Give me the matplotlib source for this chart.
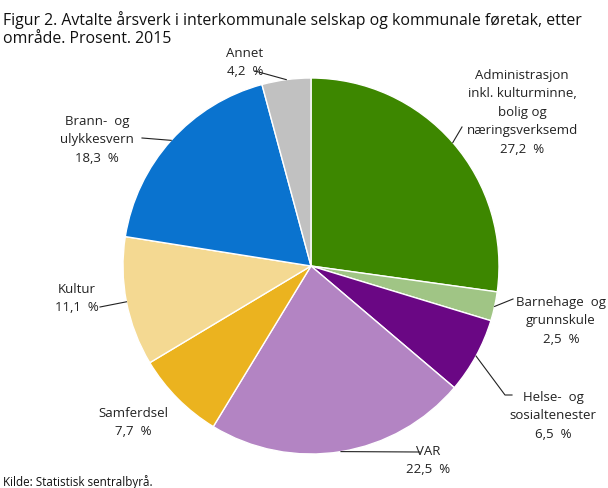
import numpy as np
import matplotlib
matplotlib.use("Agg")
import matplotlib.pyplot as plt

categories = ["Administrasjon\ninkl. kulturminne,\nbolig og\nnæringsverksemd",
              "Barnehage  og\ngrunnskule", "Helse-  og\nsosialtenester", "VAR",
              "Samferdsel", "Kultur", "Brann-  og\nulykkesvern", "Annet"]
values = [27.2, 2.5, 6.5, 22.5, 7.7, 11.1, 18.3, 4.2]
colors = ["#3D8700", "#A0C585", "#6A0784", "#B384C3", "#EBB31F", "#F4D992", "#0A73CF", "#C1C1C1"]

W, H = 608, 489
plt.rcParams['font.family'] = ['Open Sans', 'DejaVu Sans']
fig = plt.figure(figsize=(W / 100, H / 100), dpi=100)
ax = fig.add_axes([0, 0, 1, 1])
ax.set_xlim(0, W)
ax.set_ylim(0, H)
ax.set_aspect('equal')
ax.axis('off')

cx, cy, r = 311, H - 267, 188
wedges, _ = ax.pie(values, colors=colors, startangle=90, counterclock=False,
                   center=(cx, cy), radius=r,
                   wedgeprops=dict(edgecolor='white', linewidth=1.0))
ax.set_xlim(0, W)
ax.set_ylim(0, H)

def P(y):
    return H - y

# label layout: (text center x, first line center y in px, leader start (x,y) px or None, elbow)
layout = [
    (522, 74, (462, 128), None),
    (561, 301, (513, 300), None),
    (553, 396, (512, 396), (505, 396)),
    (428, 450, (420, 453), None),
    (133, 412, None, None),
    (77, 288, (100, 308), None),
    (97, 120, (142, 139), None),
    (245, 52, (255, 72), None),
]
fs = 9.5
lh = 18.5
for w, cat, val, (tx, ty, ls, elbow) in zip(wedges, categories, values, layout):
    lines = cat.split("\n") + [f"{val:.1f}".replace(".", ",") + "  %"]
    for i, line in enumerate(lines):
        ax.text(tx, P(ty + i * lh), line, ha='center', va='center_baseline',
                fontsize=fs, color='#222222')
    if ls is not None:
        mid = np.deg2rad((w.theta1 + w.theta2) / 2)
        ex, ey = cx + r * np.cos(mid), cy + r * np.sin(mid)
        xs = [ls[0]]
        ys = [P(ls[1])]
        if elbow is not None:
            xs.append(elbow[0]); ys.append(P(elbow[1]))
        xs.append(ex); ys.append(ey)
        ax.plot(xs, ys, color='#222222', lw=0.8)

fig.text(3 / W, 1 - 18 / H, "Figur 2. Avtalte årsverk i interkommunale selskap og kommunale føretak, etter",
         ha='left', va='center_baseline', fontsize=11.4, color='#111111')
fig.text(3 / W, 1 - 37 / H, "område. Prosent. 2015",
         ha='left', va='center_baseline', fontsize=11.4, color='#111111')
fig.text(3 / W, 1 - 481 / H, "Kilde: Statistisk sentralbyrå.", ha='left', va='center_baseline',
         fontsize=8.4, color='#111111')

fig.savefig("out.png", dpi=100)
